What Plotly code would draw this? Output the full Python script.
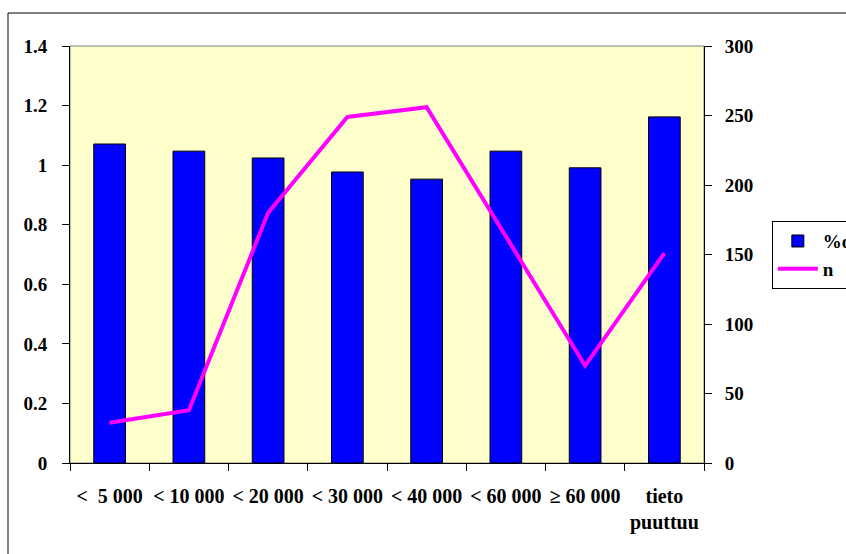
import plotly.graph_objects as go

categories = ["<  5 000", "< 10 000", "< 20 000", "< 30 000", "< 40 000",
              "< 60 000", "≥ 60 000", "tieto<br>puuttuu"]
promille = [1.071, 1.047, 1.024, 0.977, 0.953, 1.047, 0.991, 1.162]
n_values = [29, 38, 180, 249, 256, 163, 70, 151]

left_ticks = [0, 0.2, 0.4, 0.6, 0.8, 1, 1.2, 1.4]
right_ticks = [0, 50, 100, 150, 200, 250, 300]

FONT = "Liberation Serif"

fig = go.Figure()
fig.add_trace(go.Bar(
    x=categories, y=promille, name="%o",
    marker=dict(color="#0000FF", line=dict(color="black", width=1)),
    yaxis="y",
))
fig.add_trace(go.Scatter(
    x=categories, y=n_values, name="n", mode="lines",
    line=dict(color="#FF00FF", width=4),
    yaxis="y2",
))

fig.update_layout(
    width=846, height=554,
    margin=dict(l=70, r=142, t=46, b=91, autoexpand=False),
    paper_bgcolor="white",
    plot_bgcolor="#FFFFCC",
    bargap=0.6,
    font=dict(family=FONT, size=19, color="black", weight=700),
    showlegend=True,
    legend=dict(
        x=1.107, y=0.58, xanchor="left", yanchor="top",
        bgcolor="white", bordercolor="black", borderwidth=1,
        font=dict(family=FONT, size=19, color="black", weight=700),
        tracegroupgap=0, itemwidth=40,
    ),
    xaxis=dict(
        showline=True, linecolor="black", linewidth=1,
        ticks="outside", ticklen=7, tickcolor="black",
        tickmode="array", tickvals=categories,
        tickson="boundaries",
        showgrid=False, zeroline=False,
        tickangle=0,
        tickfont=dict(family=FONT, size=20, color="black", weight=700),
        ticklabelstandoff=15,
    ),
    yaxis=dict(
        range=[0, 1.4], tickvals=left_ticks,
        showline=True, linecolor="black", linewidth=1,
        ticks="outside", ticklen=7, tickcolor="black",
        showgrid=False, zeroline=False,
        ticklabelstandoff=11,
    ),
    yaxis2=dict(
        range=[0, 300], tickvals=right_ticks,
        overlaying="y", side="right",
        showline=True, linecolor="black", linewidth=1,
        ticks="outside", ticklen=7, tickcolor="black",
        showgrid=False, zeroline=False,
        ticklabelstandoff=9,
    ),
    shapes=[
        dict(type="rect", xref="paper", yref="paper", x0=0, x1=1, y0=0, y1=1,
             line=dict(color="#808080", width=1), layer="below"),
        dict(type="rect", xref="paper", yref="paper",
             x0=(8 - 70) / 634, x1=1.4, y0=-0.4, y1=(463 - 13) / 417,
             line=dict(color="black", width=1), fillcolor="rgba(0,0,0,0)",
             layer="below"),
    ],
)

fig.write_html(
    "out.html",
    config={"displayModeBar": False},
    post_script="document.body.style.margin='0';document.body.style.overflow='hidden';",
)
